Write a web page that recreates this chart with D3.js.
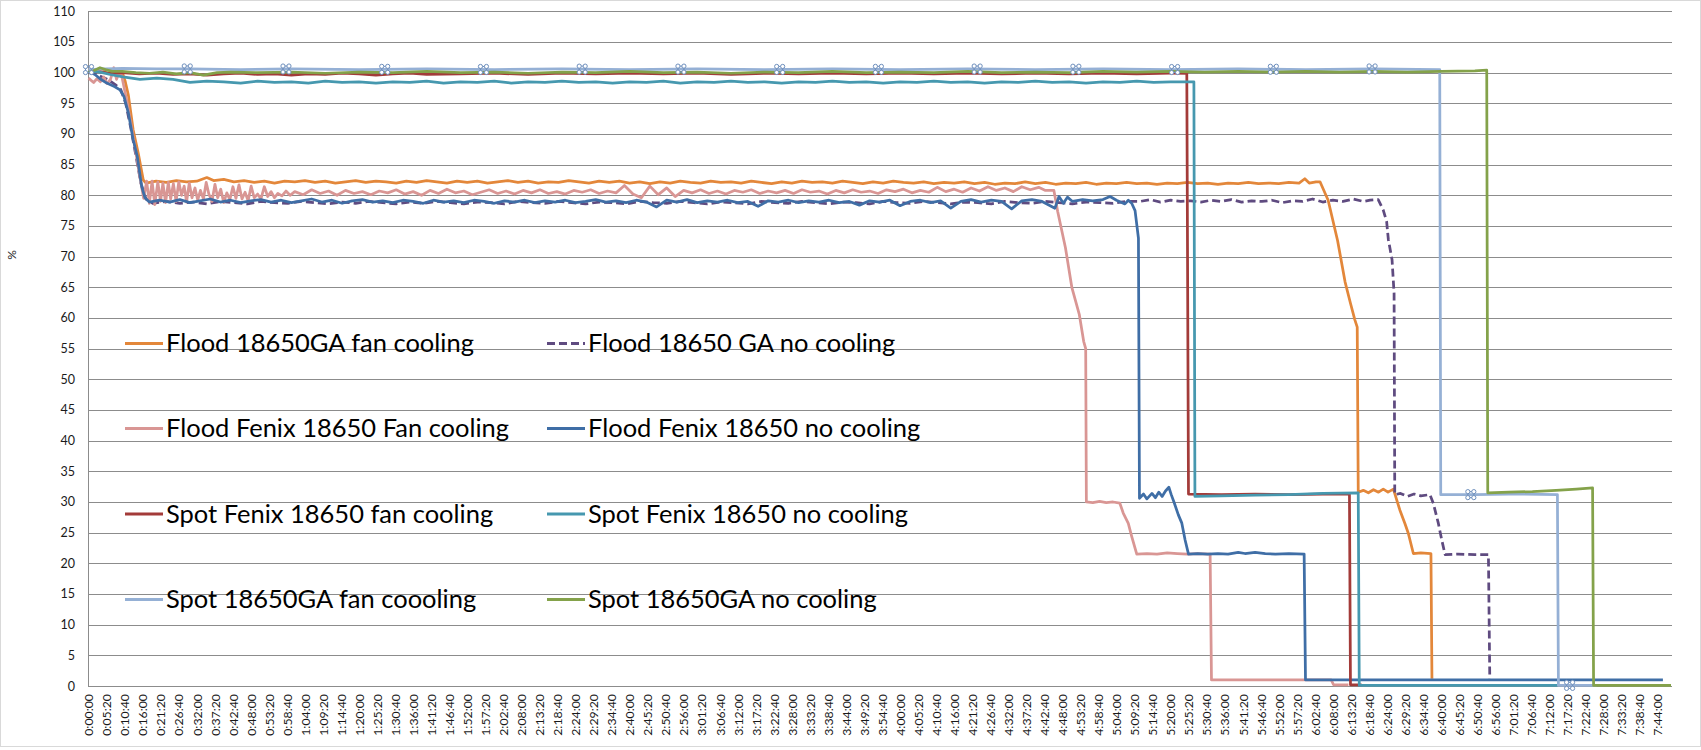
<!DOCTYPE html>
<html><head><meta charset="utf-8">
<script src="https://cdn.jsdelivr.net/npm/d3@7"></script>
<style>body{margin:0;background:#fff}</style>
</head><body><svg id="c" width="1701" height="750"></svg>
<script>
// ---------- DATA (time in minutes, value in %) ----------
const seriesNames = [
  "Flood 18650GA fan cooling", "Flood 18650 GA no cooling",
  "Flood Fenix 18650 Fan cooling", "Flood Fenix 18650 no cooling",
  "Spot Fenix 18650 fan cooling", "Spot Fenix 18650 no cooling",
  "Spot 18650GA fan coooling", "Spot 18650GA no cooling"
];
const seriesColors = ["#E3873A","#5F4B80","#D99694","#3F6EA6","#A33B39","#4698AF","#95B0D5","#84A24A"];
const seriesDashed = [false,true,false,false,false,false,false,false];

const yTickValues = [0,5,10,15,20,25,30,35,40,45,50,55,60,65,70,75,80,85,90,95,100,105,110];
const xTickSeconds = d3.range(0, 27841, 320); // 0:00:00 ... 7:44:00 every 5:20
const yAxisTitle = "%";

const floodGAFan = [[0,100.2],[2,100.4],[4,100.1],[6,100.5],[8,100.3],[9.9,100.2],[10.8,98.7],[11.8,96.3],[13.2,90.7],[14.7,86.9],[16.2,82.5],[17,82.0],
[20,82.3],[23,82.1],[26,82.4],[29,82.2],[32,82.3],[35,82.9],[37,82.4],[40,82.6],[43,82.2],[46,82.4],[49,82.1],[52,82.3],[55,82.0],[58,82.3],[61,82.2],[64,82.4],[67,82.1],[70,82.3],[73,82.0],[76,82.2],[79,82.4],[82,82.1],[85,82.3],[88,82.2],[91,82.0],[94,82.3],[97,82.1],[100,82.4],[103,82.2],[106,82.0],[109,82.3],[112,82.1],[115,82.3],[118,82.0],[121,82.2],[124,82.4],[127,82.1],[130,82.3],[133,82.0],[136,82.2],[139,82.1],[142,82.4],[145,82.2],[148,82.0],[151,82.3],[154,82.1],[157,82.3],[160,82.0],[163,82.2],[166,81.9],[169,82.2],[172,82.0],[175,82.3],[178,82.1],[181,82.0],[184,82.3],[187,82.1],[190,82.2],[193,82.0],[196,82.3],[199,82.1],[202,81.9],[205,82.2],[208,82.0],[211,82.3],[214,82.1],[217,82.2],[220,82.0],[223,82.3],[226,82.1],[229,81.9],[232,82.2],[235,82.0],[238,82.3],[241,82.1],[244,82.0],[247,82.2],[250,81.9],[253,82.1],[256,82.0],[259,82.2],[262,81.9],[265,82.1],[268,81.8],[271,82.0],[274,81.9],[277,82.2],[280,81.9],[283,82.1],[286,81.8],[289,82.0],[292,81.9],[295,82.1],[298,81.8],[301,82.0],[304,81.9],[307,82.1],[310,81.9],[313,82.0],[316,81.8],[319,82.0],[322,81.9],[325,82.1],[328,81.9],[331,82.0],[334,81.8],[337,82.0],[340,81.9],[343,82.1],[346,81.9],[349,82.0],[352,81.9],[355,82.1],[358,82.0],[359.7,82.7],[361,82.0],[363,82.2],[364.2,82.2],
[366.6,79.2],[369.4,72.6],[371.6,65.9],[373.2,62.4],[374.5,59.7],[375.2,58.5],[375.5,31.6],[377,31.9],[378.5,31.5],[380,32.0],[381.5,31.6],[382.9,32.1],[384.3,31.6],[385.9,32.1],[386.9,30.3],[387.8,28.7],[389.3,26.5],[390.3,24.9],[391.8,21.6],[394,21.7],[397,21.6],[397.3,1.2]];

const floodGANo = [[0,100.0],[2,99.8],[4,99.3],[6,98.8],[8,98.0],[9.5,97.3],[11,95.0],[12.5,91.0],[14,86.5],[15.5,82.0],[17,79.4],[19,78.7],
[23,79.0],[27,78.7],[31,78.9],[35,78.6],[39,79.0],[43,78.8],[47,78.6],[51,79.0],[55,78.8],[59,78.7],[63,79.0],[67,78.8],[71,78.6],[75,78.9],[79,78.7],[83,79.0],[87,78.8],[91,78.6],[95,78.9],[99,78.7],[103,79.0],[107,78.8],[111,78.6],[115,78.9],[119,78.8],[123,78.6],[127,79.0],[131,78.8],[135,78.7],[139,79.0],[143,78.8],[147,78.6],[151,78.9],[155,78.8],[159,78.6],[163,79.0],[167,78.8],[171,78.7],[175,79.0],[179,78.8],[183,78.6],[187,78.9],[191,78.8],[195,78.6],[199,79.0],[203,78.8],[207,78.7],[211,79.0],[215,78.8],[219,78.6],[223,78.9],[227,78.8],[231,78.6],[235,79.0],[239,78.8],[243,78.7],[247,79.0],[251,78.8],[255,78.6],[259,78.9],[263,78.8],[267,78.6],[271,79.0],[275,78.8],[279,78.7],[283,79.0],[287,78.8],[291,78.6],[295,78.9],[299,78.8],[303,78.7],[307,79.0],
[311,79.0],[314,79.3],[317,78.9],[320,79.2],[323,79.0],[326,79.1],[329,78.9],[332,79.2],[335,79.0],[338,79.3],[341,78.9],[344,79.1],[347,79.0],[350,79.2],[353,78.8],[356,79.1],[359,79.0],[362,79.4],[365,78.9],[368,79.2],[371,79.0],[374,79.4],[377,79.0],[379,79.2],[381.4,79.3],[382.9,77.6],[383.9,75.7],[384.4,72.8],[385.5,69.5],[386.1,64.0],[386.3,31.2],[388,31.4],[390,30.9],[392,31.3],[394,31.0],[396.7,31.2],[397.7,29.8],[399.2,26.5],[400.2,23.8],[401.2,21.4],[405,21.5],[410,21.4],[414.0,21.4],[414.4,1.2]];

const floodFenixFan = [[0,99.1],[1.5,98.4],[2.5,99.0],[3.5,98.5],[4.5,99.3],[5.5,98.2],[6.5,98.9],[7.5,100.8],[8.3,98.9],[9.3,100.5],[10.0,99.0],[11.3,95.5],[12.6,91.5],[13.9,87.3],[15.2,83.0],[16.3,79.5],[17.2,82.3],[18.0,78.7],[18.8,82.3],[19.6,78.5],[20.5,82.2],[21.3,79.0],[22.0,82.0],[22.8,78.8],[23.6,82.1],[24.3,79.4],[25.1,81.9],[25.9,79.0],[26.7,82.2],[27.5,80.0],[28.3,81.5],[29.0,78.9],[29.8,82.0],[30.6,79.6],[31.5,81.2],[32.3,79.2],[33.1,80.8],[34.0,79.4],[34.8,82.1],[35.6,80.2],[36.5,79.0],[37.4,81.8],[38.2,79.6],[39.1,81.0],[40.0,78.8],[40.9,80.4],[41.8,79.3],[42.7,81.4],[43.6,79.5],[44.5,81.7],[45.4,79.4],[46.3,80.5],[47.2,79.1],[48.1,81.5],[49.0,79.6],[50.0,80.2],[51.0,79.4],[52.0,81.4],[53.0,79.8],[54.0,80.6],[55.0,79.6],[56.0,80.3],[57.2,79.9],[58.4,80.7],[59.6,80.0],
[61,80.6],[63.5,80.1],[66,80.9],[68.5,80.3],[71,80.7],[73.5,80.0],[76,80.8],[78.5,80.3],[81,80.6],[83.5,80.1],[86,80.7],[88.5,80.4],[91,80.9],[93.5,80.2],[96,80.6],[98.5,80.0],[101,80.8],[103.5,80.3],[106,81.0],[108.5,80.4],[111,80.7],[113.5,80.1],[116,80.5],[118.5,80.9],[121,80.3],[123.5,80.7],[126,80.2],[128.5,80.8],[131,80.4],[133.5,80.9],[136,80.3],[138.5,80.6],[141,80.2],[143.5,80.8],[146,80.5],[148.5,80.9],[151,80.3],[153.5,80.7],[156,80.4],[158.5,81.6],[161,80.2],[163.5,79.6],[166,81.5],[168.5,80.1],[171,81.2],[173.5,79.8],[176,80.8],[178.5,80.4],[181,80.9],[183.5,80.3],[186,80.7],[188.5,80.2],[191,80.8],[193.5,80.5],[196,80.9],[198.5,80.3],[201,80.7],[203.5,80.4],[206,80.8],[208.5,80.3],[211,80.9],[213.5,80.5],[216,80.7],[218.5,80.2],[221,80.8],[223.5,80.4],[226,80.9],[228.5,80.5],[231,80.7],[233.5,80.3],[236,80.9],[238.5,80.6],[241,81.0],[243.5,80.4],[246,80.8],[248.5,80.5],[251,81.3],[253.5,80.6],[256,81.0],[258.5,80.5],[261,81.2],[263.5,80.7],[266,81.4],[268.5,80.8],[271,81.2],[273.5,80.6],[276,81.4],[278.5,80.9],[281,81.3],[283,80.8],[285.5,80.8],
[286.6,77.4],[288.9,71.5],[290.8,65.0],[293.0,60.6],[294.3,56.2],[294.9,55.0],[295.1,30.0],[297,29.9],[299,30.1],[301,29.9],[303,30.0],[305,29.8],[306,28.2],[307.5,26.5],[308.5,24.4],[310,21.5],[313,21.6],[316,21.5],[319,21.7],[322,21.6],[325,21.5],[328,21.6],[331.7,21.5],[332.1,1.0],[340,1.0],[350,1.0],[360,1.0],[367.5,1.0],[368.2,0.2],[372.6,0.2]];

const floodFenixNo = [[0,100.3],[1.9,99.7],[3.4,99.0],[5.4,98.3],[7.8,97.7],[9.3,97.2],[10.5,96.1],[11.8,93.4],[13.2,89.1],[14.4,86.4],[15.7,81.5],[16.7,79.6],[18,78.9],
[21,79.2],[24,78.9],[27,79.3],[30,78.8],[33,79.1],[36,79.4],[39,78.9],[42,79.2],[45,78.8],[48,79.1],[51,79.3],[54,78.9],[57,79.2],[60,78.8],[63,79.1],[66,79.4],[69,78.9],[72,79.2],[75,78.7],[78,79.1],[81,79.3],[84,78.9],[87,79.1],[90,78.8],[93,79.2],[96,79.0],[99,78.7],[102,79.2],[105,78.9],[108,79.1],[111,78.8],[114,79.2],[117,79.0],[120,78.7],[123,79.1],[126,78.9],[129,79.2],[132,78.8],[135,79.1],[138,78.9],[141,79.2],[144,78.8],[147,79.0],[150,79.3],[153,78.9],[156,79.1],[159,78.8],[162,79.2],[165,78.9],[168,78.1],[171,79.2],[174,78.9],[177,79.3],[180,78.8],[183,79.1],[186,78.9],[189,79.2],[192,78.8],[195,79.0],[198,78.2],[201,79.1],[204,78.9],[207,79.2],[210,78.8],[213,79.1],[216,78.9],[219,79.2],[222,78.8],[225,79.0],[228,78.4],[231,79.1],[234,78.9],[237,79.2],[240,78.3],[243,79.0],[246,79.2],[249,78.8],[252,79.1],[255,77.9],[258,79.0],[261,79.3],[264,78.9],[267,79.2],[270,79.0],[273,77.8],[276,79.1],[279,79.3],[282,79.0],[285.8,77.9],[287,79.8],[288.3,78.7],[289.5,79.7],[291,79.0],[294,79.3],[297,79.1],[300,79.3],[302.1,79.8],[304,79.2],[306.5,78.6],[307.5,79.2],[308.5,78.7],[309.5,77.5],[310.5,73.0],[310.8,30.6],
[312,31.3],[313,30.5],[314.5,31.4],[315.5,30.7],[316.5,31.6],[317.5,30.9],[318.5,31.8],[319.5,32.4],[320.2,31.2],[321,30.0],[322.3,27.9],[323.3,26.6],[324.3,23.8],[325.3,21.5],[328,21.6],[331,21.5],[334,21.6],[337,21.5],[340,21.8],[342,21.6],[345,21.8],[348,21.6],[351,21.5],[355,21.6],[359.5,21.5],[359.9,1.0],[380,1.0],[400,1.0],[420,1.0],[440,1.0],[465.6,1.0]];

const spotFenixFan = [[0,100.0],[3,100.2],[6,99.9],[10,100.0],[15,99.8],[20,99.9],[25,99.7],[30,99.8],[35,99.6],[40,99.8],[45,99.9],[50,99.7],[55,99.8],[60,99.6],[65,99.8],[70,99.7],[75,99.9],[80,99.8],[85,99.6],[90,99.8],[95,99.9],[100,99.7],[110,99.8],[120,99.9],[130,99.7],[140,99.9],[150,99.8],[160,99.9],[170,99.8],[180,99.9],[190,99.7],[200,99.9],[210,99.8],[220,99.9],[230,99.8],[240,99.9],[250,99.8],[260,99.9],[270,99.8],[280,99.9],[290,99.8],[300,99.9],[310,99.8],[320,99.9],[324.8,99.9],[325.3,31.3],[335,31.2],[345,31.3],[355,31.2],[365,31.3],[372.9,31.3],[373.2,0.2],[376.5,0.2]];

const spotFenixNo = [[0,100.1],[2.4,100.2],[6.4,99.7],[10.2,99.3],[15.2,98.9],[20.2,99.1],[25,98.9],[30,98.4],[35,98.6],[40,98.5],[45,98.3],[50,98.6],[55,98.4],[60,98.5],[65,98.3],[70,98.6],[75,98.4],[80,98.5],[85,98.3],[90,98.5],[95,98.4],[100,98.6],[105,98.3],[110,98.5],[115,98.4],[120,98.6],[125,98.3],[130,98.5],[135,98.4],[140,98.6],[145,98.4],[150,98.5],[155,98.3],[160,98.5],[165,98.4],[170,98.6],[175,98.3],[180,98.5],[185,98.4],[190,98.6],[195,98.4],[200,98.5],[205,98.3],[210,98.5],[215,98.4],[220,98.6],[225,98.4],[230,98.5],[235,98.3],[240,98.5],[245,98.4],[250,98.6],[255,98.4],[260,98.5],[265,98.3],[270,98.5],[275,98.4],[280,98.6],[285,98.4],[290,98.5],[295,98.3],[300,98.5],[305,98.4],[310,98.6],[315,98.4],[320,98.5],[326.9,98.5],[327.2,30.9],[335,31.0],[345,31.1],[355,31.2],[365,31.4],[375.5,31.5],[375.8,0.1],[400,0.1],[420,0.1],[434.5,0.1]];

const spotGAFan = [[0,100.5],[5,100.6],[10,100.7],[20,100.6],[30,100.6],[45,100.5],[60,100.6],[80,100.5],[100,100.6],[120,100.5],[140,100.6],[160,100.5],[180,100.6],[200,100.5],[220,100.6],[240,100.5],[260,100.6],[280,100.5],[300,100.6],[320,100.5],[340,100.6],[360,100.5],[380,100.6],[399.6,100.5],[399.9,31.2],[410,31.2],[420,31.3],[434.4,31.2],[434.7,0.1],[446,0.1]];

const spotGANo = [[0,100.0],[1.5,100.3],[3.4,100.8],[5,100.5],[7,100.2],[10,100.2],[14,100.0],[18,99.9],[22,100.1],[26,99.8],[30,100.0],[34,99.6],[38,100.0],[42,100.1],[50,100.0],[60,100.1],[70,99.9],[80,100.1],[90,100.0],[100,100.2],[110,100.0],[120,100.1],[130,99.9],[140,100.1],[150,100.0],[160,100.2],[170,100.0],[180,100.1],[190,99.9],[200,100.1],[210,100.0],[220,100.2],[230,100.0],[240,100.1],[250,100.0],[260,100.2],[270,100.0],[280,100.1],[290,100.0],[300,100.2],[310,100.1],[320,100.2],[330,100.1],[340,100.2],[350,100.1],[360,100.2],[370,100.1],[380,100.2],[390,100.1],[400,100.2],[410,100.3],[413.5,100.4],[413.8,31.5],[420,31.6],[427,31.7],[434,31.9],[440,32.1],[444.8,32.3],[445.1,0.1],[468,0.1]];

const seriesData = [floodGAFan, floodGANo, floodFenixFan, floodFenixNo, spotFenixFan, spotFenixNo, spotGAFan, spotGANo];
const handleSeriesIndex = 6;      // series showing Excel selection handles
const handleEveryMinutes = 29.2;  // spacing of those handles

// ---------- LAYOUT ----------
const svg = d3.select("#c");
const W = 1701, H = 750;
const plot = {left: 88, right: 1672, top: 11.3, bottom: 686};
const x0 = 88.5;
const pxPerSec = (1657.5 - x0) / 27840;

const x = d3.scaleLinear().domain([0, (plot.right - x0) / pxPerSec]).range([x0, plot.right]);
const y = d3.scaleLinear().domain([0, 110]).range([plot.bottom, plot.top]);

svg.append("rect").attr("x",0.5).attr("y",0.5).attr("width",W-1).attr("height",746)
  .attr("fill","#fff").attr("stroke","#D9D9D9");

// gridlines
svg.append("g").selectAll("line").data(yTickValues).join("line")
  .attr("x1", plot.left).attr("x2", plot.right)
  .attr("y1", d => Math.round(y(d)) + 0.5).attr("y2", d => Math.round(y(d)) + 0.5)
  .attr("stroke", "#8C8C8C").attr("stroke-width", 1);

// y axis
const yAxis = d3.axisLeft(y).tickValues(yTickValues).tickSize(0).tickPadding(13);
const gy = svg.append("g").attr("transform", `translate(${plot.left},0)`).call(yAxis);
gy.select(".domain").remove();
gy.selectAll("text").attr("font-family","Lato, 'Open Sans', sans-serif").attr("font-size","12.5px").attr("fill","#1a1a1a");
svg.append("line").attr("x1", plot.left+0.5).attr("x2", plot.left+0.5).attr("y1", plot.top).attr("y2", plot.bottom)
  .attr("stroke","#8C8C8C");

// x axis
const fmt = s => { const h = Math.floor(s/3600), m = Math.floor((s%3600)/60), ss = s%60;
  return `${h}:${String(m).padStart(2,"0")}:${String(ss).padStart(2,"0")}`; };
const xAxis = d3.axisBottom(x).tickValues(xTickSeconds).tickFormat(fmt).tickSize(0).tickPadding(0);
const gx = svg.append("g").attr("transform", `translate(0,${plot.bottom})`).call(xAxis);
gx.select(".domain").remove();
gx.selectAll("text")
  .attr("font-family","Lato, 'Open Sans', sans-serif").attr("font-size","12.3px").attr("fill","#1a1a1a")
  .attr("text-anchor","end").attr("transform","rotate(-90)")
  .attr("x", -8).attr("y", 0).attr("dy","0.35em");

// y axis title
svg.append("text").attr("transform","translate(12,255) rotate(-90)")
  .attr("text-anchor","middle").attr("dy","0.35em")
  .attr("font-family","Lato, sans-serif").attr("font-size","12px").attr("fill","#1a1a1a").text(yAxisTitle);

// lines
const line = d3.line().x(d => x(d[0]*60)).y(d => y(d[1]));
svg.append("g").selectAll("path").data(seriesData).join("path")
  .attr("d", line).attr("fill","none")
  .attr("stroke", (d,i) => seriesColors[i])
  .attr("stroke-width", 2.75)
  .attr("stroke-linejoin","round")
  .attr("stroke-dasharray", (d,i) => seriesDashed[i] ? "8,4" : null);

// selection handles on one series
const hs = seriesData[handleSeriesIndex];
const lastT = hs[hs.length-1][0];
const valueAt = t => { for (let i=1;i<hs.length;i++){ if (hs[i][0] >= t){ const a=hs[i-1], b=hs[i];
  return a[1] + (b[1]-a[1])*(t-a[0])/(b[0]-a[0]); } } return hs[hs.length-1][1]; };
const handleTimes = d3.range(0, lastT, handleEveryMinutes);
const hg = svg.append("g").selectAll("g").data(handleTimes).join("g")
  .attr("transform", t => `translate(${x(t*60)},${y(valueAt(t))})`);
hg.append("rect").attr("x",-3).attr("y",-3).attr("width",6).attr("height",6)
  .attr("fill","none").attr("stroke","#6E8FBD").attr("stroke-width",1);
[[-3,-3],[3,-3],[-3,3],[3,3]].forEach(([cx,cy]) => {
  hg.append("circle").attr("cx",cx).attr("cy",cy).attr("r",2.1)
    .attr("fill","#fff").attr("stroke","#6E8FBD").attr("stroke-width",1);
});

// legend
const legCols = [125, 547], legRows = [343.5, 428.5, 514, 599.5];
const leg = svg.append("g").selectAll("g").data(seriesNames).join("g")
  .attr("transform", (d,i) => `translate(${legCols[i%2]},${legRows[Math.floor(i/2)]})`);
leg.append("line").attr("x1",0).attr("x2",38).attr("y1",0).attr("y2",0)
  .attr("stroke",(d,i)=>seriesColors[i]).attr("stroke-width",3)
  .attr("stroke-dasharray",(d,i)=>seriesDashed[i] ? "8,4" : null);
const legText = leg.append("text").attr("x",41).attr("dy","0.35em")
  .attr("font-family","Lato, 'Open Sans', sans-serif").attr("font-size","26px").attr("fill","#000")
  .text(d => d);
// fit the font size so the first label spans the width seen in the chart
const w0 = legText.node().getComputedTextLength();
legText.attr("font-size", (26 * 308 / w0).toFixed(2) + "px");
</script></body></html>
